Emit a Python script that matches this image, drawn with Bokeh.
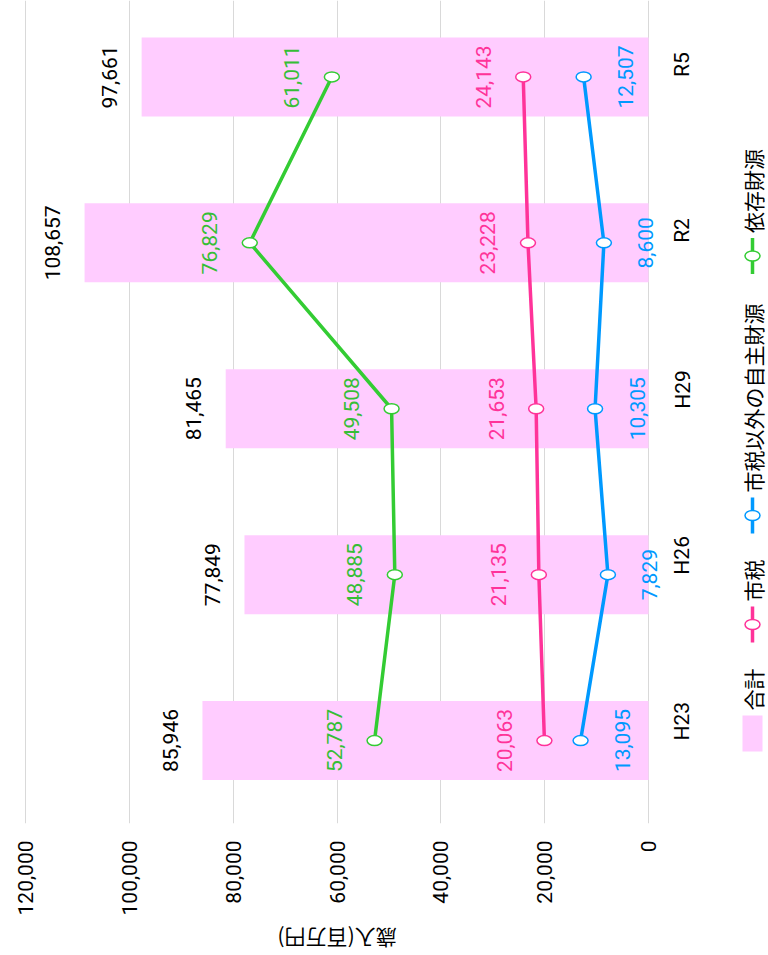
from math import pi
from bokeh.plotting import figure
from bokeh.models import Range1d, FixedTicker, NumeralTickFormatter
from bokeh.layouts import row, column
from bokeh.core.properties import value
from bokeh.embed import file_html
from bokeh.resources import INLINE

# ---------------- data ----------------
categories = ["H23", "H26", "H29", "R2", "R5"]
total = [85946, 77849, 81465, 108657, 97661]          # 合計 (bars)
city_tax = [20063, 21135, 21653, 23228, 24143]        # 市税
other_own = [13095, 7829, 10305, 8600, 12507]         # 市税以外の自主財源
dependent = [52787, 48885, 49508, 76829, 61011]       # 依存財源
value_ticks = [0, 20000, 40000, 60000, 80000, 100000, 120000]
series_names = ["合計", "市税", "市税以外の自主財源", "依存財源"]
axis_title = "歳入(百万円)"

# ---------------- styles ----------------
NUM_FONT = "Roboto"
CJK_FONT = "Noto Sans CJK JP"
NUM_SIZE = "21px"
BAR_COLOR = "#FFCCFF"
colors = {"市税": "#FF3399", "市税以外の自主財源": "#0099FF", "依存財源": "#33CC33"}
text_colors = {"市税": "#FF3399", "市税以外の自主財源": "#0099FF", "依存財源": "#36BE36"}
label_offsets = {"市税": -40, "市税以外の自主財源": 42, "依存財源": -40}

FRAME_W, FRAME_H = 654, 823
LEFT_B, RIGHT_B, BOTTOM_B = 20, 51, 98
PX_PER_CAT = 165.9
idx = list(range(len(categories)))
y_lo = -0.5
y_hi = y_lo + FRAME_H / PX_PER_CAT

p = figure(frame_width=FRAME_W, frame_height=FRAME_H,
           x_range=Range1d(121000, -5000), y_range=Range1d(y_lo, y_hi),
           y_axis_location="right", output_backend="svg", toolbar_location=None,
           min_border_left=LEFT_B, min_border_top=0, min_border_right=RIGHT_B,
           min_border_bottom=BOTTOM_B,
           outline_line_color=None, background_fill_color="white", border_fill_color="white")

# value axis (bottom)
vt = FixedTicker(ticks=value_ticks)
p.xaxis.ticker = vt
p.xgrid.ticker = vt
p.xaxis.formatter = NumeralTickFormatter(format="0,0")
p.xaxis.major_label_orientation = pi / 2
p.xaxis.major_tick_line_color = None
p.xaxis.minor_tick_line_color = None
p.xaxis.major_tick_out = 0
p.xaxis.major_tick_in = 0
p.xaxis.axis_line_color = None
p.xaxis.major_label_standoff = 17
p.xaxis.major_label_text_font = NUM_FONT
p.xaxis.major_label_text_font_size = NUM_SIZE
p.xaxis.major_label_text_color = "black"
p.xgrid.grid_line_color = "#D9D9D9"
p.xgrid.grid_line_width = 1
p.ygrid.visible = False

# category axis (right)
p.yaxis.ticker = FixedTicker(ticks=idx)
p.yaxis.major_label_overrides = {i: c for i, c in zip(idx, categories)}
p.yaxis.major_label_orientation = pi / 2
p.yaxis.major_tick_line_color = None
p.yaxis.minor_tick_line_color = None
p.yaxis.major_tick_out = 0
p.yaxis.major_tick_in = 0
p.yaxis.axis_line_color = None
p.yaxis.major_label_standoff = 8
p.yaxis.major_label_text_font = NUM_FONT
p.yaxis.major_label_text_font_size = NUM_SIZE
p.yaxis.major_label_text_color = "black"

# bars: total
p.hbar(y=idx, left=0, right=total, height=0.476, fill_color=BAR_COLOR, line_color=None)
p.text(x=total, y=idx, text=[f"{v:,}" for v in total], angle=pi / 2, x_offset=-32,
       text_align="center", text_baseline="middle", text_color="black",
       text_font=value(NUM_FONT), text_font_size=NUM_SIZE)

# lines
series = {"市税": city_tax, "市税以外の自主財源": other_own, "依存財源": dependent}
for name in ["依存財源", "市税", "市税以外の自主財源"]:
    vals = series[name]
    c = colors[name]
    p.line(x=vals, y=idx, line_color=c, line_width=3.5)
    p.ellipse(x=vals, y=idx, width=15, height=10, width_units="screen", height_units="screen",
              fill_color="white", line_color=c, line_width=1.5)
    p.text(x=vals, y=idx, text=[f"{v:,}" for v in vals], angle=pi / 2, x_offset=label_offsets[name],
           text_align="center", text_baseline="middle", text_color=text_colors[name],
           text_font=value(NUM_FONT), text_font_size=NUM_SIZE)

# ---------------- legend (rotated, drawn as its own narrow panel) ----------------
LG_W = 43
lg = figure(frame_width=LG_W, frame_height=FRAME_H,
            x_range=Range1d(0, LG_W), y_range=Range1d(FRAME_H, 0),
            output_backend="svg", toolbar_location=None,
            x_axis_location=None, y_axis_location=None,
            min_border_left=0, min_border_right=0, min_border_top=0, min_border_bottom=BOTTOM_B,
            outline_line_color=None, background_fill_color="white", border_fill_color="white")
lg.grid.visible = False

LX = 27
SYM = 36
GAP = 5
CH = 21.5
ITEM_GAP = 25
cursor = 751
for name in series_names:
    center = cursor - SYM / 2
    if name == "合計":
        lg.rect(x=[LX], y=[center], width=20, height=SYM, fill_color=BAR_COLOR, line_color=None)
    else:
        c = colors[name]
        lg.segment(x0=[LX], y0=[cursor], x1=[LX], y1=[cursor - SYM], line_color=c, line_width=3.5)
        lg.ellipse(x=[LX], y=[center], width=15, height=10, fill_color="white", line_color=c, line_width=1.5)
    tstart = cursor - SYM - GAP
    lg.text(x=[LX], y=[tstart], text=[name], angle=pi / 2, text_align="left", text_baseline="middle",
            text_color="black", text_font=value(CJK_FONT), text_font_size="21px")
    cursor = tstart - len(name) * CH - ITEM_GAP

# ---------------- value-axis title (upside down strip below the chart) ----------------
TITLE_H = 34
tf = figure(frame_width=FRAME_W, frame_height=TITLE_H,
            x_range=p.x_range, y_range=Range1d(0, 1),
            output_backend="svg", toolbar_location=None,
            x_axis_location=None, y_axis_location=None,
            min_border_left=LEFT_B, min_border_right=RIGHT_B + LG_W, min_border_top=0, min_border_bottom=0,
            outline_line_color=None, background_fill_color="white", border_fill_color="white")
tf.grid.visible = False
tf.text(x=[(value_ticks[0] + value_ticks[-1]) / 2], y=[0.5], text=[axis_title], angle=pi,
        text_align="center", text_baseline="middle", text_color="black",
        text_font=value(CJK_FONT), text_font_size="21px")

layout = column(row(p, lg), tf)
open("out.html", "w").write(file_html(layout, INLINE))
